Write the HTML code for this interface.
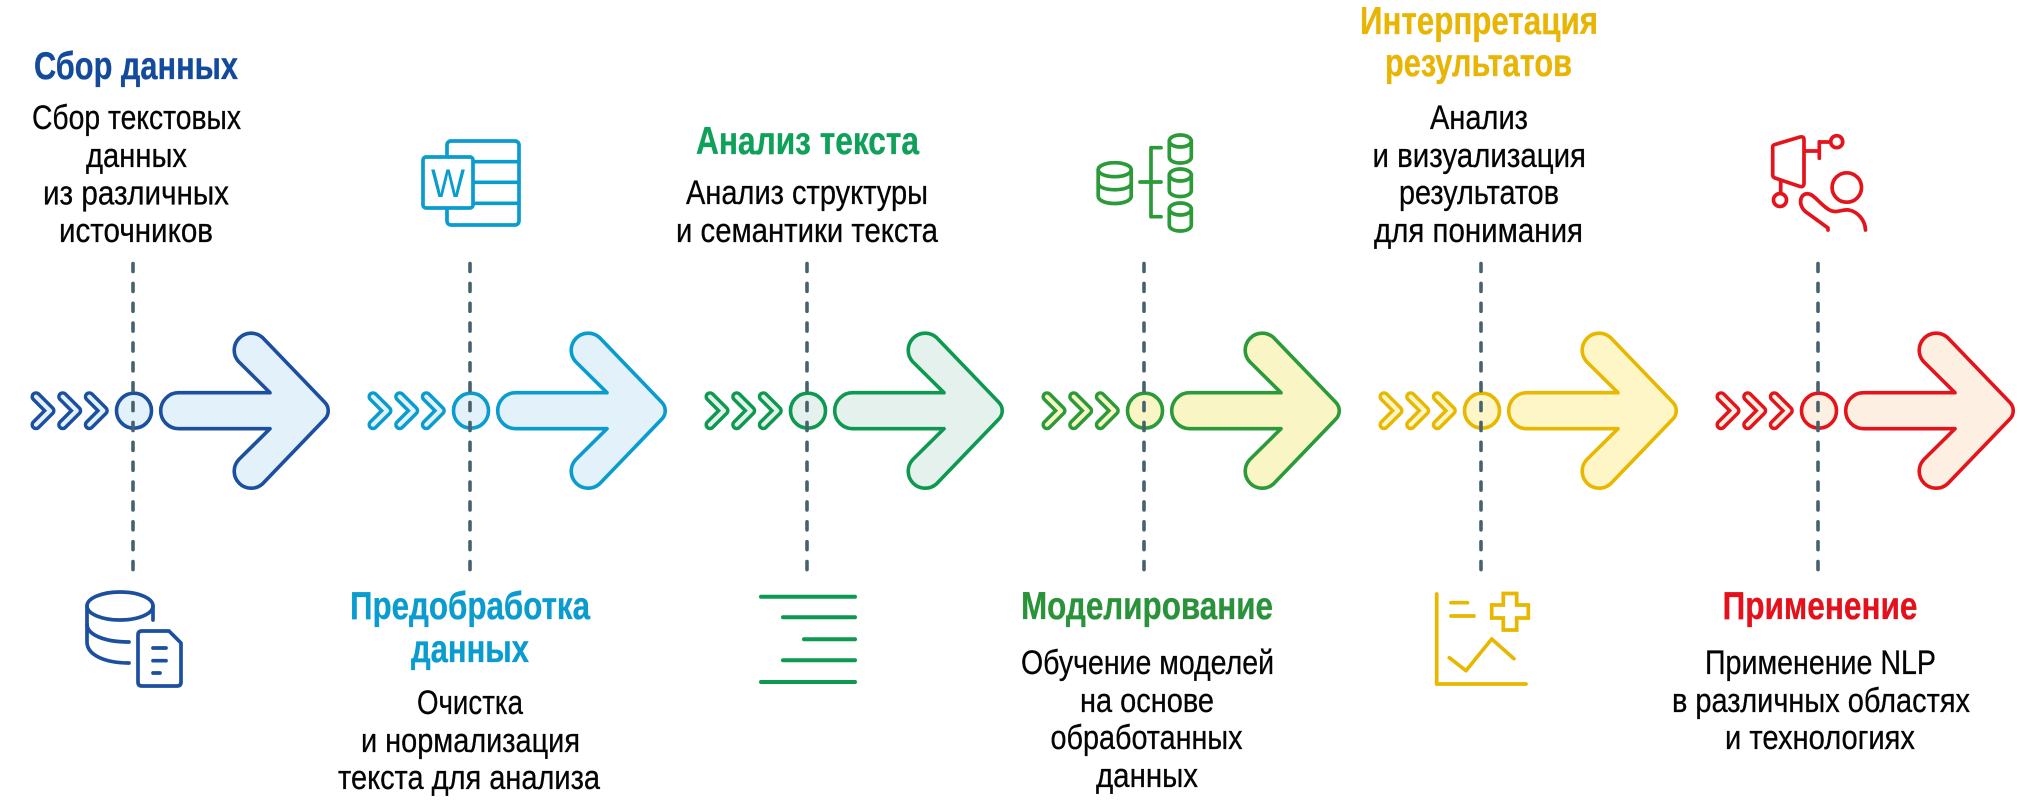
<!DOCTYPE html>
<html lang="ru">
<head>
<meta charset="utf-8">
<title>NLP</title>
<style>
html,body{margin:0;padding:0;background:#fff;width:2020px;height:800px;overflow:hidden}
svg{display:block}
text{font-family:"Liberation Sans Narrow","Liberation Sans",sans-serif}
.h{font-size:39px;font-weight:700;stroke-width:.35px}
.b{font-size:34px;fill:#050505;stroke:#050505;stroke-width:.3px}
.i{fill:none;stroke-width:3.7px;stroke-linecap:round;stroke-linejoin:round}
</style>
</head>
<body>
<svg width="2020" height="800" viewBox="0 0 2020 800" xmlns="http://www.w3.org/2000/svg">
<defs>
<path id="arrow" d="M45.7,-18 L137,-18 L105.5,-49.2 A17,17 0 0 1 129.5,-73.2 L191.7,-8.5 A12,12 0 0 1 191.7,8.5 L129.5,73.2 A17,17 0 0 1 105.5,49.2 L137,18 L45.7,18 A18,18 0 0 1 45.7,-18 Z"/>
<g id="chev">
<polyline points="-97,-14 -83,0 -97,14"/>
<polyline points="-70.3,-14 -56.3,0 -70.3,14"/>
<polyline points="-43.7,-14 -29.7,0 -43.7,14"/>
</g>
<g id="node">
<g fill="none" stroke-linecap="round" stroke-linejoin="round">
<use href="#chev" stroke="var(--s)" stroke-width="11"/>
<use href="#chev" stroke="var(--f)" stroke-width="4.2"/>
</g>
<circle cx="1" cy="0" r="17.5" fill="var(--f)" stroke="var(--s)" stroke-width="3.6"/>
<use href="#arrow" fill="var(--f)" stroke="var(--s)" stroke-width="3.6" stroke-linejoin="round"/>
</g>
<line id="dash" x1="0" y1="263.5" x2="0" y2="571" stroke="#46626e" stroke-width="3.6" stroke-linecap="round" stroke-dasharray="8 11.87"/>
</defs>

<rect width="2020" height="800" fill="#fff"/>

<!-- nodes -->
<g transform="translate(133,410.7)" style="--s:#1c4f9f;--f:#e3f1fb"><use href="#node"/></g>
<g transform="translate(470,410.7)" style="--s:#0a9ccf;--f:#e3f1fb"><use href="#node"/></g>
<g transform="translate(807,410.7)" style="--s:#0d994f;--f:#e4f1ec"><use href="#node"/></g>
<g transform="translate(1144,410.7)" style="--s:#2b9a38;--f:#f9f5c4"><use href="#node"/></g>
<g transform="translate(1481,410.7)" style="--s:#e8b800;--f:#fff6c8"><use href="#node"/></g>
<g transform="translate(1818,410.7)" style="--s:#e3141b;--f:#fdf0e2"><use href="#node"/></g>

<!-- dashed lines -->
<use href="#dash" x="133"/>
<use href="#dash" x="470"/>
<use href="#dash" x="807"/>
<use href="#dash" x="1144"/>
<use href="#dash" x="1481"/>
<use href="#dash" x="1818"/>

<!-- column 1 -->
<text class="h" fill="#134a9c" stroke="#134a9c" x="34" y="79" textLength="204" lengthAdjust="spacingAndGlyphs">Сбор данных</text>
<text class="b" x="32" y="129" textLength="209" lengthAdjust="spacingAndGlyphs">Сбор текстовых</text>
<text class="b" x="86" y="167" textLength="101" lengthAdjust="spacingAndGlyphs">данных</text>
<text class="b" x="43" y="204.5" textLength="186" lengthAdjust="spacingAndGlyphs">из различных</text>
<text class="b" x="59" y="242" textLength="154" lengthAdjust="spacingAndGlyphs">источников</text>
<g class="i" stroke="#1c4f9f">
<ellipse cx="120" cy="606" rx="33" ry="14"/>
<path d="M153,606 V620"/>
<path d="M87,606 V642 C87,655 105,663 129,663"/>
<path d="M87,624 C87,635 105,642 129,642"/>
<path d="M142,631 H169 L181,643 V682 Q181,686 177,686 H142 Q138,686 138,682 V635 Q138,631 142,631 Z"/>
<path d="M153,648 H166 M153,660.7 H166 M153,673 H160"/>
</g>

<!-- column 2 -->
<g class="i" stroke="#0a9ccf">
<rect x="447" y="141" width="72" height="84" rx="4"/>
<path d="M473,161.7 H519 M473,182.3 H519 M473,203.3 H519"/>
<rect x="423" y="157" width="50" height="51" rx="3" fill="#fff"/>
</g>
<text x="431" y="197" font-size="40" fill="#0a9ccf" textLength="34" lengthAdjust="spacingAndGlyphs">W</text>
<text class="h" fill="#0a9ccf" stroke="#0a9ccf" x="350" y="619" textLength="240" lengthAdjust="spacingAndGlyphs">Предобработка</text>
<text class="h" fill="#0a9ccf" stroke="#0a9ccf" x="411" y="662" textLength="118" lengthAdjust="spacingAndGlyphs">данных</text>
<text class="b" x="417" y="714" textLength="106" lengthAdjust="spacingAndGlyphs">Очистка</text>
<text class="b" x="361" y="752" textLength="219" lengthAdjust="spacingAndGlyphs">и нормализация</text>
<text class="b" x="338" y="789" textLength="262" lengthAdjust="spacingAndGlyphs">текста для анализа</text>

<!-- column 3 -->
<text class="h" fill="#0fa059" stroke="#0fa059" x="696" y="154" textLength="223" lengthAdjust="spacingAndGlyphs">Анализ текста</text>
<text class="b" x="686" y="204" textLength="242" lengthAdjust="spacingAndGlyphs">Анализ структуры</text>
<text class="b" x="676" y="242" textLength="262" lengthAdjust="spacingAndGlyphs">и семантики текста</text>
<g class="i" stroke="#0d994f" style="stroke-width:4px">
<path d="M761,596.7 H855 M783,617.3 H855 M804,639.3 H855 M783,660.3 H855 M761,682 H855"/>
</g>

<!-- column 4 -->
<g class="i" stroke="#2b9a38">
<ellipse cx="1114.7" cy="169.7" rx="16.5" ry="7"/>
<path d="M1098.2,169.7 V196 C1098.2,206 1131.2,206 1131.2,196 V169.7"/>
<path d="M1098.2,183 C1098.2,192 1131.2,192 1131.2,183"/>
<ellipse cx="1180.3" cy="141" rx="11" ry="6"/>
<path d="M1169.3,141 V157 C1169.3,165 1191.3,165 1191.3,157 V141"/>
<ellipse cx="1180.3" cy="175" rx="11" ry="6"/>
<path d="M1169.3,175 V190.5 C1169.3,198.5 1191.3,198.5 1191.3,190.5 V175"/>
<ellipse cx="1180.3" cy="209" rx="11" ry="6"/>
<path d="M1169.3,209 V225 C1169.3,233 1191.3,233 1191.3,225 V209"/>
<path d="M1161,147.7 H1151 V216.7 H1161 M1140,182 H1161"/>
</g>
<text class="h" fill="#2a923a" stroke="#2a923a" x="1021" y="619" textLength="252" lengthAdjust="spacingAndGlyphs">Моделирование</text>
<text class="b" x="1021" y="674" textLength="253" lengthAdjust="spacingAndGlyphs">Обучение моделей</text>
<text class="b" x="1080" y="712" textLength="134" lengthAdjust="spacingAndGlyphs">на основе</text>
<text class="b" x="1050.5" y="749" textLength="192" lengthAdjust="spacingAndGlyphs">обработанных</text>
<text class="b" x="1096" y="787" textLength="102" lengthAdjust="spacingAndGlyphs">данных</text>

<!-- column 5 -->
<text class="h" fill="#e8b505" stroke="#e8b505" x="1360" y="34" textLength="238" lengthAdjust="spacingAndGlyphs">Интерпретация</text>
<text class="h" fill="#e8b505" stroke="#e8b505" x="1385" y="76" textLength="187" lengthAdjust="spacingAndGlyphs">результатов</text>
<text class="b" x="1430" y="129" textLength="98" lengthAdjust="spacingAndGlyphs">Анализ</text>
<text class="b" x="1372.5" y="167" textLength="213.5" lengthAdjust="spacingAndGlyphs">и визуализация</text>
<text class="b" x="1399" y="204" textLength="160" lengthAdjust="spacingAndGlyphs">результатов</text>
<text class="b" x="1374" y="242" textLength="209" lengthAdjust="spacingAndGlyphs">для понимания</text>
<g class="i" stroke="#e8b800">
<path d="M1436.7,594 V684 H1526"/>
<path d="M1451,602.7 H1467.5 M1451,616 H1474"/>
<path d="M1503.3,593.5 H1516.7 V605 H1528.3 V618 H1516.7 V630 H1503.3 V618 H1491.7 V605 H1503.3 Z" stroke-linejoin="miter"/>
<path d="M1449.3,657.7 L1466,670.7 L1491.7,639 L1514,658.7"/>
</g>

<!-- column 6 -->
<g class="i" stroke="#e3141b">
<path d="M1775,144.5 L1800,137 Q1804,136 1804,140 V183 Q1804,187.5 1800,186.5 L1775,178 Q1772.7,177 1772.7,175 V147 Q1772.7,145 1775,144.5 Z"/>
<path d="M1805,151 H1819.3 M1819.3,141.7 V158.3 M1819.3,142 H1830.5"/>
<circle cx="1836.7" cy="141.7" r="6"/>
<path d="M1780.7,181.7 V193"/>
<circle cx="1780" cy="200" r="6.5"/>
<circle cx="1846.8" cy="187.5" r="14.7"/>
<path d="M1828,230 V228 L1806,212 C1797,205 1800,192 1809,194 C1815,195 1823,208 1832,211 C1838,213 1842,209 1849,210 C1858,212 1865,220 1865.5,230"/>
</g>
<text class="h" fill="#e3111b" stroke="#e3111b" x="1722.5" y="619" textLength="195" lengthAdjust="spacingAndGlyphs">Применение</text>
<text class="b" x="1705" y="674" textLength="231" lengthAdjust="spacingAndGlyphs">Применение NLP</text>
<text class="b" x="1672" y="712" textLength="298" lengthAdjust="spacingAndGlyphs">в различных областях</text>
<text class="b" x="1725" y="749" textLength="190" lengthAdjust="spacingAndGlyphs">и технологиях</text>
</svg>
</body>
</html>
